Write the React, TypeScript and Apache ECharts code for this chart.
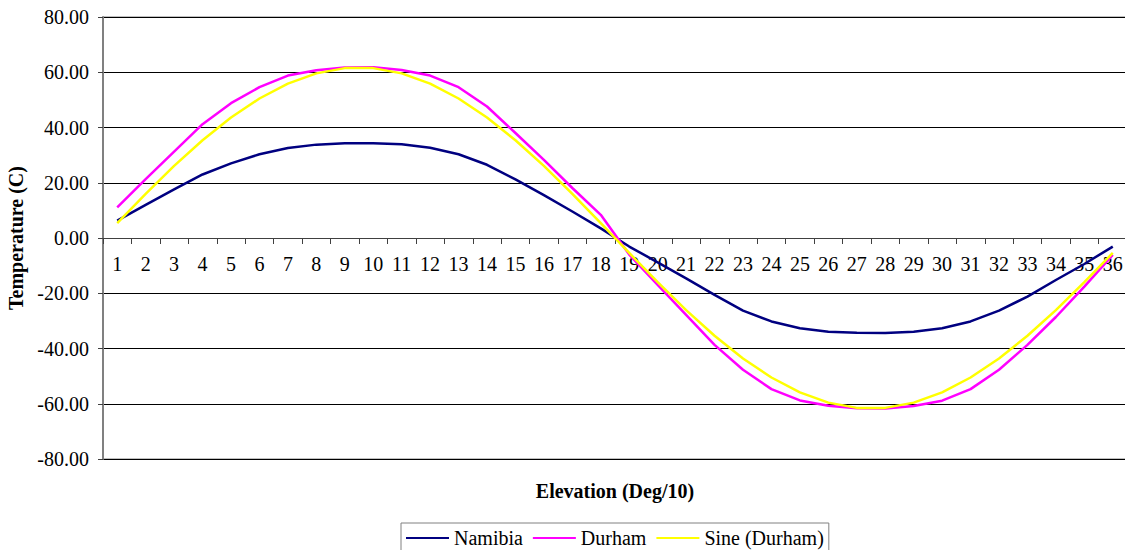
import React, { useEffect, useRef } from "react";
import * as echarts from "echarts";

const categories = [
  "1", "2", "3", "4", "5", "6", "7", "8", "9", "10", "11", "12",
  "13", "14", "15", "16", "17", "18", "19", "20", "21", "22", "23", "24",
  "25", "26", "27", "28", "29", "30", "31", "32", "33", "34", "35", "36",
];

const namibia = [
  6.3, 12.0, 17.6, 23.0, 27.0, 30.3, 32.6, 33.8, 34.3, 34.3, 33.9, 32.7,
  30.3, 26.5, 21.2, 15.5, 9.6, 3.5, -3.1, -8.8, -14.6, -20.6, -26.3, -30.2,
  -32.7, -33.9, -34.3, -34.4, -33.9, -32.7, -30.2, -26.3, -21.2, -15.2, -9.4, -3.1,
];

const durham = [
  11.1, 21.3, 31.3, 41.2, 48.8, 54.6, 58.8, 60.7, 61.7, 61.8, 60.8, 58.8,
  54.6, 47.6, 38.0, 28.3, 18.1, 8.4, -6.0, -17.0, -27.8, -38.7, -47.7, -54.7,
  -58.8, -60.7, -61.6, -61.7, -60.8, -58.9, -54.7, -47.7, -38.7, -28.6, -17.6, -6.1,
];

const sineDurham = [
  5.4, 16.0, 26.1, 35.4, 43.6, 50.5, 55.9, 59.6, 61.5, 61.5, 59.6, 55.9,
  50.5, 43.6, 35.4, 26.1, 16.0, 5.4, -5.4, -16.0, -26.1, -35.4, -43.6, -50.5,
  -55.9, -59.6, -61.5, -61.5, -59.6, -55.9, -50.5, -43.6, -35.4, -26.1, -16.0, -5.4,
];

const seriesNames = ["Namibia", "Durham", "Sine (Durham)"];
const seriesColors = ["#000080", "#FF00FF", "#FFFF00"];

const FONT = "Liberation Serif";

export default function App() {
  const ref = useRef<HTMLDivElement>(null);

  useEffect(() => {
    if (!ref.current) return;
    const chart = echarts.init(ref.current, undefined, { renderer: "svg" });
    const dataSets = [namibia, durham, sineDurham];
    chart.setOption({
      animation: false,
      backgroundColor: "#ffffff",
      textStyle: { fontFamily: FONT },
      grid: {
        left: 103,
        top: 17,
        width: 1024,
        height: 442,
        show: true,
        borderColor: "#808080",
        borderWidth: 1,
        containLabel: false,
        outerBoundsMode: "none",
      },
      legend: {
        data: seriesNames.map((n) => ({ name: n })),
        left: 401,
        top: 523,
        orient: "horizontal",
        padding: [5, 5, 5, 5],
        borderColor: "#808080",
        borderWidth: 1,
        itemWidth: 43,
        itemHeight: 2,
        itemGap: 10,
        icon: "rect",
        textStyle: { fontFamily: FONT, fontSize: 20, color: "#000", padding: [0, 0, 0, 0] },
      },
      xAxis: {
        type: "category",
        data: categories,
        boundaryGap: true,
        position: "bottom",
        offset: -221,
        name: "Elevation (Deg/10)",
        nameLocation: "middle",
        nameGap: 243,
        nameTextStyle: { fontFamily: FONT, fontSize: 20, fontWeight: "bold", color: "#000" },
        axisLine: { onZero: false, lineStyle: { color: "#404040", width: 1 } },
        axisTick: { show: true, interval: 0, length: 6, lineStyle: { color: "#404040" } },
        axisLabel: { interval: 0, margin: 16, fontFamily: FONT, fontSize: 20, color: "#000" },
        splitLine: { show: false },
      },
      yAxis: {
        type: "value",
        min: -80,
        max: 80,
        interval: 20,
        name: "Temperature (C)",
        nameLocation: "middle",
        nameGap: 72,
        nameTextStyle: { fontFamily: FONT, fontSize: 20, fontWeight: "bold", color: "#000" },
        axisLine: { show: true, onZero: false, lineStyle: { color: "#808080", width: 2 } },
        axisTick: { show: true, length: 5, lineStyle: { color: "#404040" } },
        axisLabel: {
          margin: 14,
          fontFamily: FONT,
          fontSize: 20,
          color: "#000",
          formatter: (v: number) => v.toFixed(2),
        },
        splitLine: { show: true, lineStyle: { color: "#000000", width: 1 } },
      },
      series: seriesNames.map((name, i) => ({
        name,
        type: "line",
        data: dataSets[i],
        symbol: "none",
        smooth: false,
        lineStyle: { color: seriesColors[i], width: 2.5 },
        itemStyle: { color: seriesColors[i] },
      })),
    });
    return () => chart.dispose();
  }, []);

  return (
    <div
      ref={ref}
      style={{ position: "fixed", left: 0, top: 0, width: 1125, height: 550, background: "#fff" }}
    />
  );
}
